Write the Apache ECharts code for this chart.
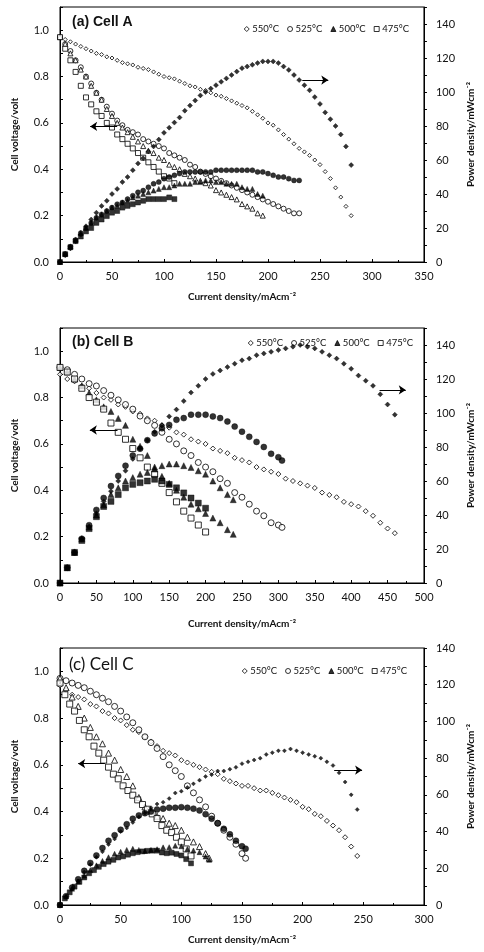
<!DOCTYPE html>
<html><head><meta charset="utf-8">
<script src="https://cdn.jsdelivr.net/npm/echarts@6/dist/echarts.min.js"></script>
<style>html,body{margin:0;padding:0;background:#fff}#c{width:484px;height:952px}</style>
</head><body><div id="c"></div>
<script>
// ---------- tick / legend labels ----------
const tempNames = ['550°C','525°C','500°C','475°C'];
const panelTitles = ['(a) Cell A','(b) Cell B','(c) Cell C'];
const xMax = [350, 500, 300];
const pMax = [150, 150, 140];

// ---------- Panel A (Cell A) ----------
const A550_I = [0,5,10,15,20,25,30,35,40,45,50,55,60,65,70,75,80,85,90,95,100,105,110,115,120,125,130,135,140,145,150,155,160,165,170,175,180,185,190,195,200,205,210,215,220,225,230,235,240,245,250,255,260,265,270,275,280];
const A550_V = [0.97,0.96,0.95,0.94,0.93,0.92,0.91,0.90,0.895,0.885,0.88,0.87,0.86,0.855,0.85,0.84,0.835,0.83,0.82,0.81,0.80,0.795,0.79,0.78,0.77,0.76,0.755,0.745,0.74,0.73,0.72,0.715,0.705,0.695,0.685,0.675,0.665,0.65,0.635,0.62,0.60,0.59,0.57,0.55,0.53,0.51,0.49,0.475,0.46,0.44,0.42,0.39,0.36,0.32,0.28,0.24,0.20];
const A550_P = [0,4,8,12,16,21,25,29,33,36,40,43,47,50,54,58,61,65,68,72,76,79,82,85,89,92,95,98,100,102,104,106,108,110,112,114,115,116,117,118,118,118,117,115,113,110,107,104,101,97,93,88,84,80,75,68,57];
const A525_I = [0,5,10,15,20,25,30,35,40,45,50,55,60,65,70,75,80,85,90,95,100,105,110,115,120,125,130,135,140,145,150,155,160,165,170,175,180,185,190,195,200,205,210,215,220,225,230];
const A525_V = [0.97,0.94,0.91,0.87,0.84,0.80,0.77,0.73,0.70,0.67,0.64,0.61,0.59,0.57,0.56,0.55,0.53,0.52,0.51,0.50,0.49,0.47,0.46,0.45,0.44,0.42,0.41,0.39,0.38,0.37,0.36,0.35,0.34,0.33,0.32,0.31,0.30,0.29,0.28,0.27,0.26,0.25,0.24,0.23,0.22,0.21,0.21];
const A525_P = [0,4.7,9,13,17,20,23,26,28,30,32,34,35,37,39,41,42,44,46,47,49,50,51,52,53,53,53,53,53,53,54,54,54,54,54,54,54,54,53,53,52,51,50,50,49,48,48];
const A500_I = [0,5,10,15,20,25,30,35,40,45,50,55,60,65,70,75,80,85,90,95,100,105,110,115,120,125,130,135,140,145,150,155,160,165,170,175,180,185,190,195];
const A500_V = [0.97,0.94,0.90,0.87,0.83,0.80,0.76,0.73,0.70,0.66,0.63,0.60,0.58,0.56,0.54,0.52,0.50,0.48,0.47,0.45,0.44,0.42,0.41,0.40,0.38,0.37,0.36,0.35,0.34,0.33,0.31,0.30,0.29,0.28,0.27,0.25,0.24,0.23,0.21,0.20];
const A500_P = [0,4.7,9,13,17,20,23,26,28,30,32,33,35,36,38,39,40,41,42,43,44,44,45,46,46,46,47,47,48,48,47,47,46,46,46,44,43,43,40,39];
const A475_I = [0,5,10,15,20,25,30,35,40,45,50,55,60,65,70,75,80,85,90,95,100,105,110];
const A475_V = [0.97,0.92,0.87,0.82,0.76,0.71,0.68,0.65,0.63,0.60,0.58,0.55,0.53,0.51,0.49,0.47,0.45,0.43,0.41,0.39,0.37,0.36,0.34];
const A475_P = [0,4.6,8.7,12.3,15,18,20,23,25,27,29,30,32,33,34,35,36,37,37,37,37,38,37];

// ---------- Panel B (Cell B) ----------
const B550_I = [0,10,20,30,40,50,60,70,80,90,100,110,120,130,140,150,160,170,180,190,200,210,220,230,240,250,260,270,280,290,300,310,320,330,340,350,360,370,380,390,400,410,420,430,440,450,460];
const B550_V = [0.90,0.88,0.87,0.85,0.84,0.82,0.80,0.79,0.77,0.76,0.74,0.73,0.71,0.70,0.68,0.67,0.65,0.64,0.62,0.61,0.60,0.58,0.57,0.56,0.54,0.53,0.52,0.50,0.49,0.48,0.47,0.45,0.44,0.43,0.42,0.41,0.39,0.38,0.37,0.35,0.34,0.33,0.31,0.29,0.26,0.235,0.215];
const B550_P = [0,9,18,26,33,41,48,54,60,66,73,79,84,89,93,98,102,107,112,116,120,123,125,127,129,131,132,134,135,136,137,138,139,140,139,138,136,134,132,129,126,122,119,116,111,105,99];
const B525_I = [0,10,20,30,40,50,60,70,80,90,100,110,120,130,140,150,160,170,180,190,200,210,220,230,240,250,260,270,280,290,300,305];
const B525_V = [0.93,0.92,0.90,0.88,0.86,0.85,0.83,0.81,0.79,0.77,0.75,0.72,0.70,0.68,0.65,0.62,0.60,0.57,0.55,0.52,0.50,0.48,0.45,0.43,0.39,0.37,0.34,0.31,0.29,0.26,0.25,0.24];
const B525_P = [0,9,18,26,34,43,50,57,63,69,75,79,84,88,91,93,96,97,99,99,99,98,97,95,92,89,86,83,80,76,74,72];
const B500_I = [0,10,20,30,40,50,60,70,80,90,100,110,120,130,140,150,160,170,180,190,200,210,220,230,238];
const B500_V = [0.93,0.91,0.88,0.85,0.82,0.79,0.76,0.74,0.71,0.68,0.62,0.59,0.55,0.50,0.46,0.43,0.40,0.37,0.34,0.32,0.30,0.28,0.26,0.23,0.21];
const B500_P = [0,9,18,26,33,40,46,52,56,60,62,64,65,67,69,70,70,69,68,66,64,60,56,52,49];
const B475_I = [0,10,20,30,40,50,60,70,80,90,100,110,120,130,140,150,160,170,180,190,200];
const B475_V = [0.93,0.91,0.88,0.84,0.80,0.78,0.75,0.69,0.65,0.62,0.58,0.54,0.50,0.47,0.43,0.39,0.35,0.31,0.28,0.25,0.22];
const B475_P = [0,9,18,25,32,39,45,48,52,56,58,59,60,61,60,58,56,53,50,47,44];

// ---------- Panel C (Cell C) ----------
const C550_I = [0,5,10,15,20,25,30,35,40,45,50,55,60,65,70,75,80,85,90,95,100,105,110,115,120,125,130,135,140,145,150,155,160,165,170,175,180,185,190,195,200,205,210,215,220,225,230,235,240,245];
const C550_V = [0.94,0.92,0.90,0.89,0.88,0.86,0.85,0.83,0.82,0.80,0.79,0.77,0.75,0.74,0.72,0.70,0.68,0.66,0.65,0.64,0.62,0.61,0.60,0.59,0.58,0.57,0.56,0.54,0.53,0.52,0.51,0.51,0.50,0.49,0.49,0.48,0.47,0.46,0.45,0.44,0.42,0.41,0.39,0.38,0.36,0.34,0.32,0.29,0.25,0.21];
const C550_P = [0,4.6,9,13,18,22,26,29,33,36,40,42,45,48,50,53,55,56,58,61,62,64,66,68,70,71,73,73,74,75,77,78,79,80,82,83,84,84,85,84,83,82,81,80,78,76,72,67,60,52];
const C525_I = [0,5,10,15,20,25,30,35,40,45,50,55,60,65,70,75,80,85,90,95,100,105,110,115,120,125,130,135,140,145,150,153];
const C525_V = [0.97,0.96,0.95,0.94,0.93,0.915,0.90,0.885,0.87,0.85,0.83,0.805,0.78,0.75,0.72,0.695,0.67,0.635,0.60,0.575,0.55,0.51,0.48,0.45,0.42,0.38,0.35,0.32,0.29,0.26,0.22,0.20];
const C525_P = [0,4.8,9.5,14,18.6,22.9,27,31,35,38,41,44,47,48.8,50,51,52,52.5,53,53,53.3,53,52.5,51.5,49.5,47,44.5,41.5,38.5,35,32,30.7];
const C500_I = [0,5,10,15,20,25,30,35,40,45,50,55,60,65,70,75,80,85,90,95,100,105,110,115,120,123];
const C500_V = [0.97,0.93,0.89,0.85,0.80,0.76,0.72,0.69,0.65,0.62,0.58,0.55,0.51,0.46,0.42,0.40,0.38,0.37,0.35,0.34,0.32,0.29,0.27,0.25,0.22,0.20];
const C500_P = [0,4.7,8.9,12.8,16,19,21.6,24,26,27.9,29,30,30.6,30,29.4,30,30.4,31.4,31.5,32.3,32,30.5,29.7,28.8,26.4,24.6];
const C475_I = [0,4,8,12,16,20,24,28,32,36,40,44,48,52,56,60,64,68,72,76,80,84,88,92,96,100,104,108];
const C475_V = [0.95,0.90,0.86,0.83,0.79,0.75,0.72,0.68,0.65,0.62,0.59,0.56,0.54,0.51,0.49,0.47,0.45,0.43,0.41,0.39,0.37,0.34,0.32,0.31,0.29,0.27,0.24,0.21];
const C475_P = [0,3.6,6.9,10,12.6,15,17.3,19,20.8,22.3,23.6,24.6,25.9,26.5,27.4,28.2,28.8,29.2,29.5,29.6,29.6,28.6,28.2,28.5,27.8,27,25,22.7];

// ---------- arrow annotations [fromX, toX, y] ----------
const arrowsV = [[55,29,0.585],[79,41,0.66],[37,15,0.605]];
const arrowsP = [[233,258,107],[439,475,113.6],[226,249,73.5]];

// ---------- layout ----------
const grids = [{top:7,height:255},{top:328,height:255},{top:648,height:257}];
const FONT = 'Lato';
const chart = echarts.init(document.getElementById('c'), null, {renderer:'canvas'});

const openStyle = {color:'#fff', borderColor:'#000', borderWidth:1};
const fillStyle = {color:'#000', borderColor:'#000', borderWidth:0.5};
const symbols = ['diamond','circle','triangle','rect'];

function zip(I, Y){ return I.map((x,k)=>[x, Y[k]]); }

const panels = [
  [[A550_I,A550_V,A550_P],[A525_I,A525_V,A525_P],[A500_I,A500_V,A500_P],[A475_I,A475_V,A475_P]],
  [[B550_I,B550_V,B550_P],[B525_I,B525_V,B525_P],[B500_I,B500_V,B500_P],[B475_I,B475_V,B475_P]],
  [[C550_I,C550_V,C550_P],[C525_I,C525_V,C525_P],[C500_I,C500_V,C500_P],[C475_I,C475_V,C475_P]]
];
const vSizes = [[4,5,5,5],[5,6,6,6],[5,6,6,6]];
const pSizes = [[5,5,5,5],[5,6,6,6],[4,6,5,5]];

const series = [];
panels.forEach((pan, p) => {
  pan.forEach((d, t) => {
    const triFilled = (t===2 && p===1);
    const sv = {
      type:'scatter', name: tempNames[t], xAxisIndex:p, yAxisIndex:2*p,
      data: zip(d[0], d[1]), symbol: symbols[t], symbolSize: vSizes[p][t],
      itemStyle: triFilled ? fillStyle : openStyle, z: 3
    };
    const sp = {
      type:'scatter', name: 'P'+tempNames[t]+p, xAxisIndex:p, yAxisIndex:2*p+1,
      data: zip(d[0], d[2]), symbol: symbols[t], symbolSize: pSizes[p][t],
      itemStyle: fillStyle, z: 4
    };
    if (t===0) {
      const a = arrowsV[p], b = arrowsP[p];
      sv.markLine = {silent:true, animation:false, symbol:['none','arrow'], symbolSize:7,
        lineStyle:{color:'#000', width:1, type:'solid'}, label:{show:false},
        data:[[{coord:[a[0],a[2]]},{coord:[a[1],a[2]]}]]};
      sp.markLine = {silent:true, animation:false, symbol:['none','arrow'], symbolSize:7,
        lineStyle:{color:'#000', width:1, type:'solid'}, label:{show:false},
        data:[[{coord:[b[0],b[2]]},{coord:[b[1],b[2]]}]]};
    }
    series.push(sv, sp);
  });
});

const axLine = {show:true, lineStyle:{color:'#000', width:1}};
const lbl = {color:'#111', fontFamily:FONT, fontSize:11};
const nameStyle = {color:'#111', fontFamily:FONT, fontSize:10, fontWeight:'bold'};

const xAxes = grids.map((g,p)=>({
  type:'value', gridIndex:p, min:0, max:xMax[p], interval:50,
  axisLine:axLine, axisTick:{show:true, inside:true, length:3, lineStyle:{color:'#000'}},
  minorTick:{show:true, splitNumber:2, length:2, lineStyle:{color:'#000'}},
  splitLine:{show:false}, axisLabel:Object.assign({margin:9}, lbl),
  name:'Current density/mAcm⁻²', nameLocation:'middle', nameGap:[30,36,30][p], nameTextStyle:nameStyle
}));
const yAxes = [];
grids.forEach((g,p)=>{
  yAxes.push({
    type:'value', gridIndex:p, position:'left', min:0, max:1.1, interval:0.2,
    axisLine:axLine, axisTick:{show:true, inside:true, length:3, lineStyle:{color:'#000'}},
    minorTick:{show:true, splitNumber:2, length:3, lineStyle:{color:'#000'}},
    splitLine:{show:false}, minorSplitLine:{show:false},
    axisLabel:Object.assign({margin:11, showMaxLabel:false, formatter:v=>v.toFixed(1)}, lbl),
    name:'Cell voltage/volt', nameLocation:'middle', nameGap:40, nameTextStyle:nameStyle
  });
  yAxes.push({
    type:'value', gridIndex:p, position:'right', min:0, max:pMax[p], interval:20,
    axisLine:axLine, axisTick:{show:true, inside:false, length:3, lineStyle:{color:'#000'}},
    minorTick:{show:true, splitNumber:2, length:3, lineStyle:{color:'#000'}},
    splitLine:{show:false}, minorSplitLine:{show:false},
    axisLabel:Object.assign({margin:12, showMaxLabel: pMax[p]===140}, lbl),
    name:'Power density/mWcm⁻²', nameLocation:'middle', nameGap:42, nameTextStyle:nameStyle
  });
});

const legendData = tempNames.map((n,t)=>({
  name:n, icon:symbols[t],
  itemStyle: t===2 ? {color:'#000', borderColor:'#000', borderWidth:1} : {color:'#fff', borderColor:'#000', borderWidth:1}
}));
const legendTops = [19, 333, 661];
const legendRights = [70, 66, 72];
const legends = grids.map((g,p)=>({
  data: legendData, top: legendTops[p], right: legendRights[p], orient:'horizontal',
  itemWidth:5, itemHeight:5, itemGap:8, selectedMode:false,
  textStyle:{fontFamily:FONT, fontSize:9.5, color:'#111', padding:[0,0,0,-2]}
}));
const titleTops = [10, 330, 651];
const titles = grids.map((g,p)=>({
  text: panelTitles[p], left: p===2 ? 64 : 67, top: titleTops[p],
  textStyle:{fontFamily: p===2 ? FONT : 'Liberation Sans', fontWeight: p===2 ? 'normal' : 'bold',
    fontSize: p===2 ? 17 : 14, color:'#111'}
}));

chart.setOption({
  animation:false,
  backgroundColor:'#fff',
  title: titles,
  legend: legends,
  grid: grids.map(g=>({left:60, right:59, top:g.top, height:g.height, show:true, borderColor:'#000', borderWidth:1, containLabel:false})),
  xAxis: xAxes,
  yAxis: yAxes,
  series: series
});
</script></body></html>
